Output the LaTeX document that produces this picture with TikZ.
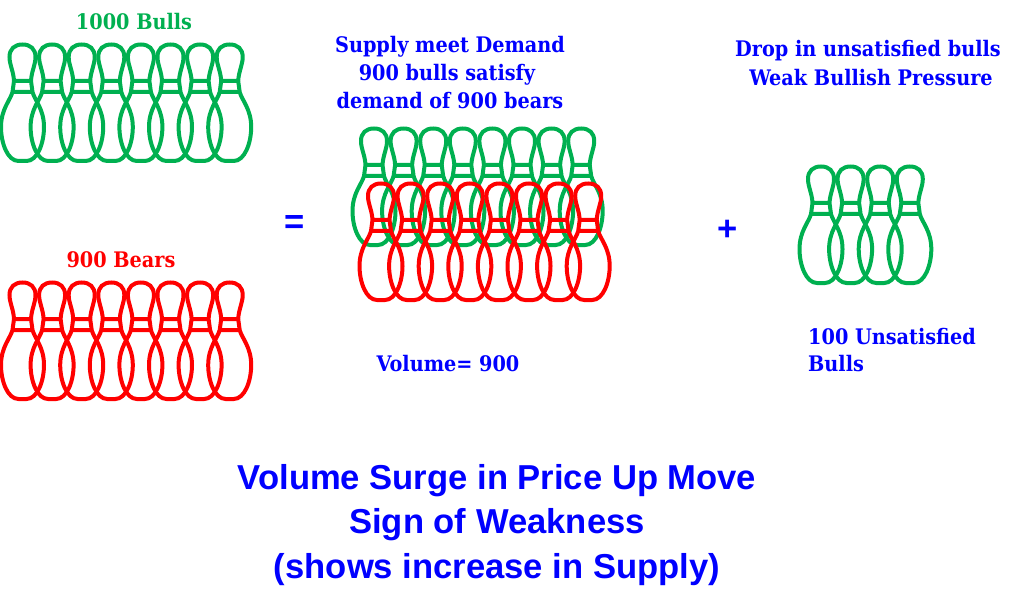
\documentclass[tikz,border=0pt]{standalone}
\usepackage{fontspec}
\setmainfont{DejaVu Serif Condensed}
\setsansfont{Liberation Sans}
\definecolor{bullgreen}{RGB}{0,176,80}
\definecolor{labelblue}{RGB}{0,0,255}
\tikzset{
  pin/.pic={
    \path[pic actions,fill=none]
      (0,1.5) .. controls (8,1.5) and (13,6) .. (13,14)
      .. controls (13,22) and (9,28) .. (8.5,38)
      -- (10,49)
      .. controls (12,57) and (21.5,66) .. (21.5,84)
      .. controls (21.5,100) and (15,118) .. (4,118)
      -- (-4,118)
      .. controls (-15,118) and (-21.5,100) .. (-21.5,84)
      .. controls (-21.5,66) and (-12,57) .. (-10,49)
      -- (-8.5,38)
      .. controls (-9,28) and (-13,22) .. (-13,14)
      .. controls (-13,6) and (-8,1.5) .. (0,1.5) -- cycle
      (-8.5,38) -- (8.5,38)
      (-10,49) -- (10,49);
  },
  bullpin/.style={draw=bullgreen,line width=4pt},
  bearpin/.style={draw=red,line width=4pt},
  serifbold/.style={font=\fontsize{21.4}{28}\selectfont\bfseries,text=labelblue,align=center,inner sep=0pt},
  sansbold/.style={font=\sffamily\fontsize{34.6}{44.5}\selectfont\bfseries,text=labelblue,align=center,inner sep=0pt}
}
\begin{document}
\begin{tikzpicture}[x=1pt,y=-1pt]
\useasboundingbox (0,0) rectangle (1024,612);
% left rows
\foreach \k in {0,...,7} {
  \pic[bullpin] at ({22.5+29.6*\k},43) {pin};
  \pic[bearpin] at ({22.5+29.6*\k},281) {pin};
}
% middle rows
\foreach \k in {0,...,7} {
  \pic[bullpin] at ({374+29.6*\k},127) {pin};
}
\foreach \k in {0,...,7} {
  \pic[bearpin] at ({381+29.6*\k},182) {pin};
}
% right row
\foreach \k in {0,...,3} {
  \pic[bullpin] at ({821+29.6*\k},165) {pin};
}
% labels
\node[serifbold,text=bullgreen] (bulls) at (134,22) {1000 Bulls};
\node[serifbold,text=red] (bears) at (121,260) {900 Bears};
\node[serifbold] (meet) at (450,47) {Supply meet Demand};
\node[serifbold] (satisfy) at (447,75) {900 bulls satisfy};
\node[serifbold] (demand) at (450,101) {demand of 900 bears};
\node[serifbold] (drop) at (868,51) {Drop in unsatisfied bulls};
\node[serifbold] (weak) at (871,78) {Weak Bullish Pressure};
\node[serifbold,anchor=west] (unsat) at (808,337) {100 Unsatisfied};
\node[serifbold,anchor=west] (unsatb) at (808,364) {Bulls};
\node[serifbold] (volume) at (448,364) {Volume= 900};
\node[sansbold] (equals) at (295,225) {=};
\node[sansbold] (plus) at (728,230) {+};
\node[sansbold] (surge) at (497,481) {Volume Surge in Price Up Move};
\node[sansbold] (sign) at (497,525) {Sign of Weakness};
\node[sansbold] (shows) at (497,570) {(shows increase in Supply)};
\end{tikzpicture}
\end{document}
